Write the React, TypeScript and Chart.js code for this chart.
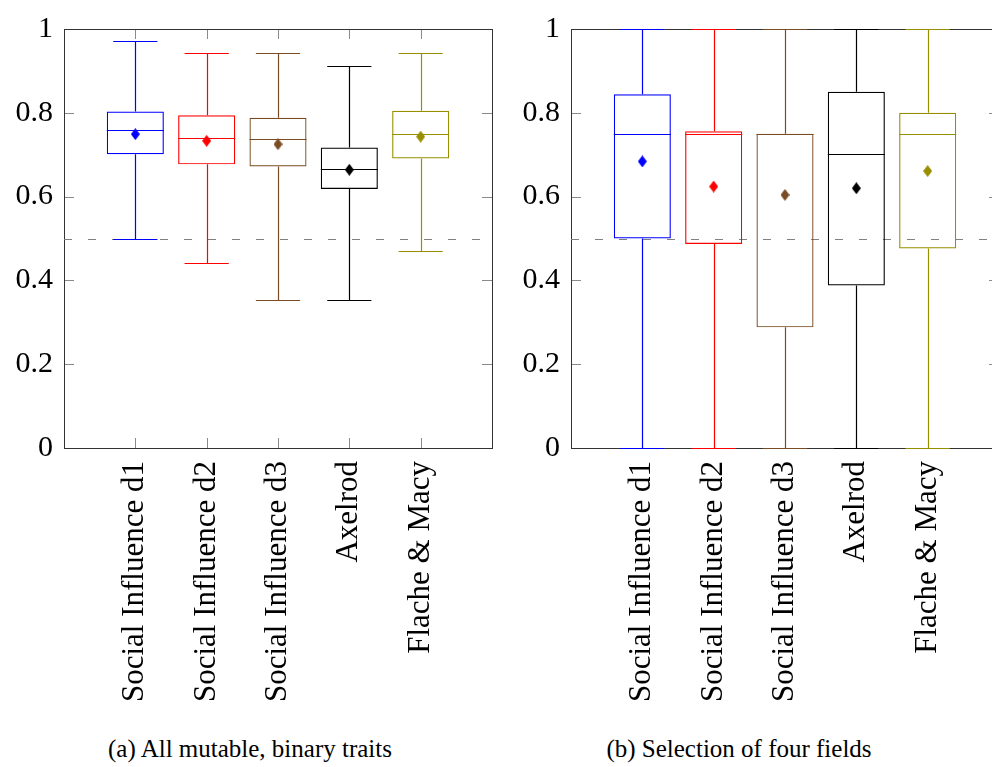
import React, { useEffect, useRef } from "react";
import { Chart, registerables } from "chart.js";

Chart.register(...registerables);

// ---------- data ----------
const categories = [
  "Social Influence d1",
  "Social Influence d2",
  "Social Influence d3",
  "Axelrod",
  "Flache & Macy",
];
const colors = ["#0000ff", "#ff0000", "#7a4c24", "#000000", "#988f00"];
const yTickValues = [0, 0.2, 0.4, 0.6, 0.8, 1];
const referenceLine = 0.5;

// (a) All mutable, binary traits
const aLower = [0.5, 0.441, 0.353, 0.353, 0.471];
const aQ1 = [0.701, 0.677, 0.672, 0.618, 0.691];
const aMedian = [0.758, 0.74, 0.737, 0.666, 0.75];
const aQ3 = [0.803, 0.794, 0.788, 0.717, 0.805];
const aUpper = [0.971, 0.942, 0.942, 0.912, 0.942];
const aMean = [0.749, 0.733, 0.725, 0.664, 0.743];

// (b) Selection of four fields
const bLower = [0, 0, 0, 0, 0];
const bQ1 = [0.5, 0.487, 0.288, 0.388, 0.476];
const bMedian = [0.75, 0.75, 0.75, 0.701, 0.75];
const bQ3 = [0.844, 0.756, 0.75, 0.85, 0.8];
const bUpper = [1, 1, 1, 1, 1];
const bMean = [0.684, 0.624, 0.604, 0.62, 0.661];

const captions = ["(a) All mutable, binary traits", "(b) Selection of four fields"];

const SERIF = '"Liberation Serif", "Times New Roman", Tinos, serif';
Chart.defaults.font.family = SERIF;

function makeDiamond(color: string) {
  const c = document.createElement("canvas");
  c.width = 9;
  c.height = 12;
  const g = c.getContext("2d")!;
  g.fillStyle = color;
  g.beginPath();
  g.moveTo(4.5, 0);
  g.lineTo(9, 6);
  g.lineTo(4.5, 12);
  g.lineTo(0, 6);
  g.closePath();
  g.fill();
  return c;
}

type BoxData = {
  lower: number[];
  q1: number[];
  median: number[];
  q3: number[];
  upper: number[];
  mean: number[];
};

function makeBoxPlugin(d: BoxData, capWidth: number, boxWidth: number) {
  return {
    id: "boxParts",
    beforeDatasetsDraw(chart: any) {
      const { ctx, chartArea: ca } = chart;
      const x = chart.scales.x;
      const y = chart.scales.y;
      const snap = (v: number) => Math.round(v) + 0.5;
      ctx.save();
      ctx.setLineDash([]);
      ctx.lineWidth = 1;
      // inward ticks
      ctx.strokeStyle = "#8a8a8a";
      ctx.beginPath();
      for (const v of yTickValues) {
        const py = snap(y.getPixelForValue(v));
        ctx.moveTo(ca.left, py);
        ctx.lineTo(ca.left + 10, py);
        ctx.moveTo(ca.right, py);
        ctx.lineTo(ca.right - 10, py);
      }
      categories.forEach((_, i) => {
        const px = snap(x.getPixelForValue(i + 1));
        ctx.moveTo(px, ca.top);
        ctx.lineTo(px, ca.top + 10);
        ctx.moveTo(px, ca.bottom);
        ctx.lineTo(px, ca.bottom - 10);
      });
      ctx.stroke();
      // frame
      ctx.strokeStyle = "#333333";
      ctx.strokeRect(
        snap(ca.left),
        snap(ca.top),
        Math.round(ca.right) - Math.round(ca.left),
        Math.round(ca.bottom) - Math.round(ca.top)
      );
      // reference dashed line
      ctx.strokeStyle = "#808080";
      ctx.setLineDash([8, 16]);
      ctx.beginPath();
      const ry = snap(y.getPixelForValue(referenceLine));
      ctx.moveTo(ca.left, ry);
      ctx.lineTo(ca.right, ry);
      ctx.stroke();
      ctx.setLineDash([]);
      // whiskers, caps, medians
      categories.forEach((_, i) => {
        const c = i + 1;
        const px = snap(x.getPixelForValue(c));
        const capL = x.getPixelForValue(c - capWidth / 2);
        const capR = x.getPixelForValue(c + capWidth / 2);
        const boxL = x.getPixelForValue(c - boxWidth / 2);
        const boxR = x.getPixelForValue(c + boxWidth / 2);
        const uy = snap(y.getPixelForValue(d.upper[i]));
        const ly = snap(y.getPixelForValue(d.lower[i]));
        const my = snap(y.getPixelForValue(d.median[i]));
        ctx.strokeStyle = colors[i];
        ctx.lineWidth = 1.2;
        ctx.beginPath();
        ctx.moveTo(px, y.getPixelForValue(d.q3[i]));
        ctx.lineTo(px, uy);
        ctx.moveTo(px, y.getPixelForValue(d.q1[i]));
        ctx.lineTo(px, ly);
        ctx.moveTo(capL, uy);
        ctx.lineTo(capR, uy);
        ctx.moveTo(capL, ly);
        ctx.lineTo(capR, ly);
        ctx.moveTo(boxL, my);
        ctx.lineTo(boxR, my);
        ctx.stroke();
      });
      ctx.restore();
    },
  };
}

function Panel(props: { data: BoxData; left: number }) {
  const ref = useRef<HTMLCanvasElement | null>(null);
  useEffect(() => {
    let chart: Chart | null = null;
    let cancelled = false;
    const build = () => {
      if (cancelled || !ref.current) return;
      const d = props.data;
      const diamonds = colors.map(makeDiamond);
      chart = new Chart(ref.current, {
        type: "bar",
        data: {
          datasets: [
            {
              type: "scatter",
              data: categories.map((_, i) => ({ x: i + 1, y: d.mean[i] })),
              pointStyle: diamonds as any,
              pointRadius: 5,
              showLine: false,
              order: 1,
            } as any,
            {
              type: "bar",
              data: categories.map((_, i) => ({ x: i + 1, y: [d.q1[i], d.q3[i]] })),
              backgroundColor: "rgba(0,0,0,0)",
              borderColor: colors,
              borderWidth: 1.2,
              borderSkipped: false,
              barPercentage: 0.8,
              categoryPercentage: 1,
              order: 2,
            } as any,
          ],
        },
        options: {
          animation: false,
          responsive: false,
          events: [],
          layout: { padding: { top: 19, left: 0, right: 8, bottom: 0 } },
          plugins: {
            legend: { display: false },
            tooltip: { enabled: false },
          },
          scales: {
            x: {
              type: "linear",
              min: 0,
              max: 6,
              offset: false,
              grid: { display: false, drawTicks: false, offset: false },
              border: { display: false },
              afterBuildTicks: (s: any) => {
                s.ticks = categories.map((_, i) => ({ value: i + 1 }));
              },
              afterFit: (s: any) => {
                s.height = 282;
              },
              ticks: {
                autoSkip: false,
                minRotation: 90,
                maxRotation: 90,
                padding: 13,
                color: "#000",
                font: { family: SERIF, size: 31 },
                callback: (v: any) => categories[Math.round(v) - 1] ?? "",
              },
            },
            y: {
              type: "linear",
              min: 0,
              max: 1,
              grid: { display: false, drawTicks: false },
              border: { display: false },
              afterBuildTicks: (s: any) => {
                s.ticks = yTickValues.map((v) => ({ value: v }));
              },
              afterFit: (s: any) => {
                s.width = 64;
              },
              ticks: {
                padding: 11,
                color: "#000",
                font: { family: SERIF, size: 30 },
                callback: (v: any) => String(Math.round(Number(v) * 10) / 10),
              },
            },
          },
        } as any,
        plugins: [makeBoxPlugin(d, 0.62, 0.8)],
      });
    };
    const fonts: any = (document as any).fonts;
    if (fonts && fonts.load) {
      Promise.all([
        fonts.load('31px "Liberation Serif"'),
        fonts.load('30px "Liberation Serif"'),
      ])
        .catch(() => null)
        .then(() => build());
    } else {
      build();
    }
    return () => {
      cancelled = true;
      if (chart) chart.destroy();
    };
  }, []);
  return (
    <canvas
      ref={ref}
      width={500}
      height={730}
      style={{ position: "absolute", left: props.left, top: 0, width: 500, height: 730 }}
    />
  );
}

export default function App() {
  const a: BoxData = { lower: aLower, q1: aQ1, median: aMedian, q3: aQ3, upper: aUpper, mean: aMean };
  const b: BoxData = { lower: bLower, q1: bQ1, median: bMedian, q3: bQ3, upper: bUpper, mean: bMean };
  const capStyle = (center: number): React.CSSProperties => ({
    position: "absolute",
    left: center - 250,
    width: 500,
    top: 736,
    textAlign: "center",
    fontFamily: SERIF,
    fontSize: 25,
    lineHeight: "25px",
    color: "#000",
    whiteSpace: "nowrap",
  });
  return (
    <div
      style={{
        position: "fixed",
        left: 0,
        top: 0,
        width: 992,
        height: 767,
        overflow: "hidden",
        background: "#fff",
        fontFamily: SERIF,
      }}
    >
      <Panel data={a} left={0} />
      <Panel data={b} left={507} />
      <div style={capStyle(250)}>{captions[0]}</div>
      <div style={capStyle(739)}>{captions[1]}</div>
    </div>
  );
}
